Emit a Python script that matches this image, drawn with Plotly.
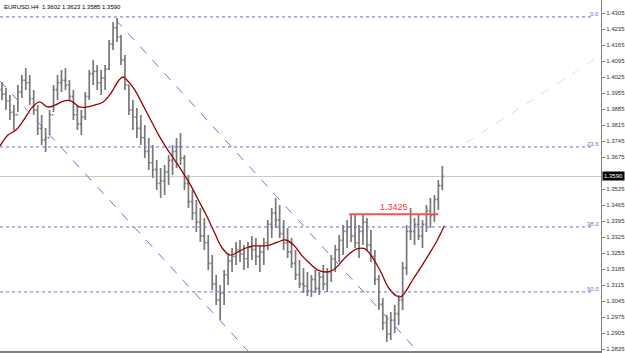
import plotly.graph_objects as go

# ---------------- data ----------------
bar_high = [1.4003,1.3977,1.3946,1.3903,1.3990,1.4034,1.4064,1.4034,1.3968,1.3903,
            1.3859,1.3802,1.3881,1.3990,1.4034,1.4056,1.4064,1.4012,1.3968,1.3903,
            1.3881,1.3959,1.4056,1.4099,1.4078,1.4056,1.4078,1.4187,1.4266,1.4283,
            1.4209,1.4121,1.3990,1.3924,1.3889,1.3859,1.3815,1.3758,1.3728,1.3662,
            1.3627,1.3640,1.3684,1.3728,1.3758,1.3780,1.3684,1.3596,1.3531,1.3487,
            1.3452,1.3408,1.3334,1.3246,1.3159,1.3115,1.3181,1.3246,1.3277,1.3303,
            1.3312,1.3290,1.3303,1.3330,1.3321,1.3290,1.3321,1.3399,1.3452,1.3496,
            1.3465,1.3399,1.3364,1.3321,1.3268,1.3224,1.3190,1.3172,1.3159,1.3181,
            1.3172,1.3203,1.3190,1.3246,1.3290,1.3334,1.3378,1.3399,1.3426,1.3421,
            1.3378,1.3421,1.3408,1.3356,1.3268,1.3159,1.3058,1.2984,1.2997,1.3028,
            1.3071,1.3216,1.3378,1.3452,1.3408,1.3421,1.3399,1.3465,1.3496,1.3509,
            1.3574,1.3636]
bar_low = [1.3924,1.3881,1.3837,1.3793,1.3872,1.3933,1.3968,1.3903,1.3859,1.3771,
           1.3728,1.3697,1.3771,1.3872,1.3924,1.3959,1.3968,1.3924,1.3837,1.3793,
           1.3771,1.3837,1.3924,1.3990,1.3968,1.3946,1.3968,1.4056,1.4143,1.4178,
           1.4078,1.3968,1.3859,1.3793,1.3758,1.3728,1.3671,1.3618,1.3583,1.3531,
           1.3496,1.3509,1.3553,1.3596,1.3627,1.3640,1.3531,1.3452,1.3399,1.3347,
           1.3303,1.3268,1.3181,1.3093,1.3028,1.2962,1.3028,1.3115,1.3172,1.3203,
           1.3216,1.3181,1.3190,1.3224,1.3203,1.3172,1.3203,1.3268,1.3321,1.3364,
           1.3321,1.3268,1.3233,1.3190,1.3137,1.3102,1.3080,1.3067,1.3063,1.3080,
           1.3071,1.3093,1.3085,1.3128,1.3172,1.3216,1.3246,1.3277,1.3303,1.3277,
           1.3233,1.3290,1.3268,1.3216,1.3115,1.3006,1.2918,1.2866,1.2874,1.2905,
           1.2940,1.3006,1.3159,1.3312,1.3290,1.3312,1.3277,1.3347,1.3364,1.3391,
           1.3443,1.3531]
bar_close = [1.3950,1.3920,1.3870,1.3860,1.3960,1.4010,1.4000,1.3930,1.3880,1.3800,
             1.3750,1.3760,1.3860,1.3970,1.4000,1.4010,1.3990,1.3940,1.3860,1.3820,
             1.3850,1.3940,1.4040,1.4050,1.4000,1.4020,1.4060,1.4170,1.4240,1.4200,
             1.4100,1.3990,1.3880,1.3850,1.3800,1.3760,1.3700,1.3650,1.3620,1.3560,
             1.3570,1.3610,1.3660,1.3700,1.3720,1.3670,1.3560,1.3480,1.3430,1.3390,
             1.3330,1.3300,1.3210,1.3120,1.3050,1.3080,1.3160,1.3220,1.3240,1.3270,
             1.3250,1.3230,1.3280,1.3270,1.3240,1.3260,1.3300,1.3380,1.3430,1.3400,
             1.3340,1.3300,1.3260,1.3210,1.3160,1.3120,1.3110,1.3090,1.3140,1.3100,
             1.3150,1.3120,1.3170,1.3230,1.3270,1.3310,1.3350,1.3370,1.3330,1.3300,
             1.3350,1.3390,1.3290,1.3240,1.3140,1.3030,1.2950,1.2900,1.2960,1.2990,
             1.3050,1.3190,1.3350,1.3350,1.3380,1.3330,1.3380,1.3440,1.3420,1.3490,
             1.3550,1.3590]
first_open = 1.3970

ma_idx = [-0.5,1.5,3.5,5.5,7.5,9.5,11.5,13.5,15.5,17.5,19.5,21.5,23.5,25.5,27.5,29.5,30.5,
          31.5,33.5,35.5,37.5,39.5,41.5,43.5,45.5,47.5,49.5,51.5,53.5,55.5,57.5,59.5,61.5,
          63.5,65.5,67.5,69.5,71.5,73.5,75.5,77.5,79.5,81.5,83.5,85.5,87.5,89.5,91.5,93.5,
          95.5,97.5,99.5,100.5,101.5,103.5,105.5,107.5,109.5,111.5]
ma_val = [1.3723,1.3771,1.3793,1.3837,1.3890,1.3916,1.3894,1.3903,1.3920,1.3920,1.3894,
          1.3894,1.3903,1.3916,1.3955,1.4012,1.4025,1.4012,1.3968,1.3903,1.3837,1.3771,
          1.3714,1.3662,1.3610,1.3553,1.3487,1.3421,1.3347,1.3277,1.3246,1.3260,1.3277,
          1.3286,1.3286,1.3290,1.3303,1.3312,1.3290,1.3246,1.3211,1.3181,1.3172,1.3181,
          1.3216,1.3251,1.3273,1.3273,1.3233,1.3172,1.3102,1.3067,1.3063,1.3080,1.3137,
          1.3190,1.3246,1.3303,1.3374]

fib_levels = [1.4288, 1.3719, 1.3369, 1.3085]
fib_labels = ["0.0", "23.6", "38.2", "50.0"]

channel_upper = {"x": [28.75, 104.0], "y": [1.4274, 1.2840]}
channel_lower = {"x": [-0.5, 62.25], "y": [1.4008, 1.2822]}
faint_line = {"x": [117.0, 151.0], "y": [1.3736, 1.4121]}

resistance_level = 1.3425
resistance_span = [87.5, 110.0]
current_price = 1.3590
header_text = "EURUSD,H4  1.3602 1.3623 1.3585 1.3590"

tick_vals = [1.4305,1.4235,1.4165,1.4095,1.4025,1.3955,1.3885,1.3815,1.3745,1.3675,
             1.3535,1.3465,1.3395,1.3325,1.3255,1.3185,1.3115,1.3045,1.2975,1.2905,1.2835]

# ---------------- figure ----------------
bar_idx = list(range(len(bar_high)))
bar_open = [first_open] + bar_close[:-1]

fig = go.Figure()
fig.add_trace(go.Ohlc(
    x=bar_idx, open=bar_open, high=bar_high, low=bar_low, close=bar_close,
    increasing=dict(line=dict(color="#787878", width=1.7)),
    decreasing=dict(line=dict(color="#787878", width=1.7)),
    tickwidth=0.4, hoverinfo="skip", showlegend=False))

fig.add_trace(go.Scatter(
    x=ma_idx, y=ma_val, mode="lines", line=dict(color="#990000", width=1.3, shape="spline"),
    hoverinfo="skip", showlegend=False))

shapes = []
fib_color = "#6b6bd6"
for lvl in fib_levels:
    shapes.append(dict(type="line", xref="x", yref="y", x0=-0.5, x1=148.8, y0=lvl, y1=lvl,
                       line=dict(color=fib_color, width=1, dash="dot")))
for ln, col in ((channel_upper, "#7070d8"), (channel_lower, "#7070d8"), (faint_line, "#dedede")):
    shapes.append(dict(type="line", xref="x", yref="y", x0=ln["x"][0], x1=ln["x"][1],
                       y0=ln["y"][0], y1=ln["y"][1],
                       line=dict(color=col, width=1, dash="dash")))
shapes.append(dict(type="line", xref="x", yref="y", x0=-0.5, x1=151, y0=current_price,
                   y1=current_price, line=dict(color="#c8c8c8", width=1), layer="below"))
shapes.append(dict(type="line", xref="x", yref="y", x0=resistance_span[0], x1=resistance_span[1],
                   y0=resistance_level, y1=resistance_level,
                   line=dict(color="#ff5050", width=2)))

annotations = []
for lvl, lab in zip(fib_levels, fib_labels):
    annotations.append(dict(xref="x", yref="y", x=150.9, y=lvl, text=lab, showarrow=False,
                            xanchor="right", yanchor="bottom", yshift=-2,
                            font=dict(family="Liberation Sans, Arial", size=6, color=fib_color)))
annotations.append(dict(xref="x", yref="y", x=(resistance_span[0] + resistance_span[1]) / 2,
                        y=resistance_level, text=f"{resistance_level:.4f}", showarrow=False,
                        yanchor="bottom", yshift=0,
                        font=dict(family="Liberation Sans, Arial", size=9, color="#ff3030")))
annotations.append(dict(xref="paper", yref="y", x=1.0, y=current_price,
                        text=f"{current_price:.4f}", showarrow=False, xanchor="left",
                        xshift=1, bgcolor="#000000", borderpad=1,
                        font=dict(family="Liberation Sans, Arial", size=6, color="#ffffff")))
annotations.append(dict(xref="paper", yref="paper", x=0.0, y=1.0, text=header_text,
                        showarrow=False, xanchor="left", yanchor="top", xshift=2, yshift=-2,
                        font=dict(family="Liberation Sans, Arial", size=6, color="#000000")))

fig.update_layout(
    width=625, height=353, margin=dict(l=0, r=19, t=0, b=2),
    paper_bgcolor="#ffffff", plot_bgcolor="#ffffff",
    shapes=shapes, annotations=annotations, showlegend=False,
    xaxis=dict(range=[-0.5, 151], showticklabels=False, showgrid=False, zeroline=False,
               showline=True, linecolor="#808080", linewidth=2, rangeslider=dict(visible=False),
               ticks=""),
    yaxis=dict(range=[1.28264, 1.43619], side="right", tickvals=tick_vals,
               ticktext=[f"{v:.4f}" for v in tick_vals], showgrid=False, zeroline=False,
               showline=True, linecolor="#808080", linewidth=1, ticks="outside", ticklen=3,
               tickcolor="#808080", tickfont=dict(family="Liberation Sans, Arial", size=6,
                                                  color="#333333")),
)

fig.write_html("out.html")
